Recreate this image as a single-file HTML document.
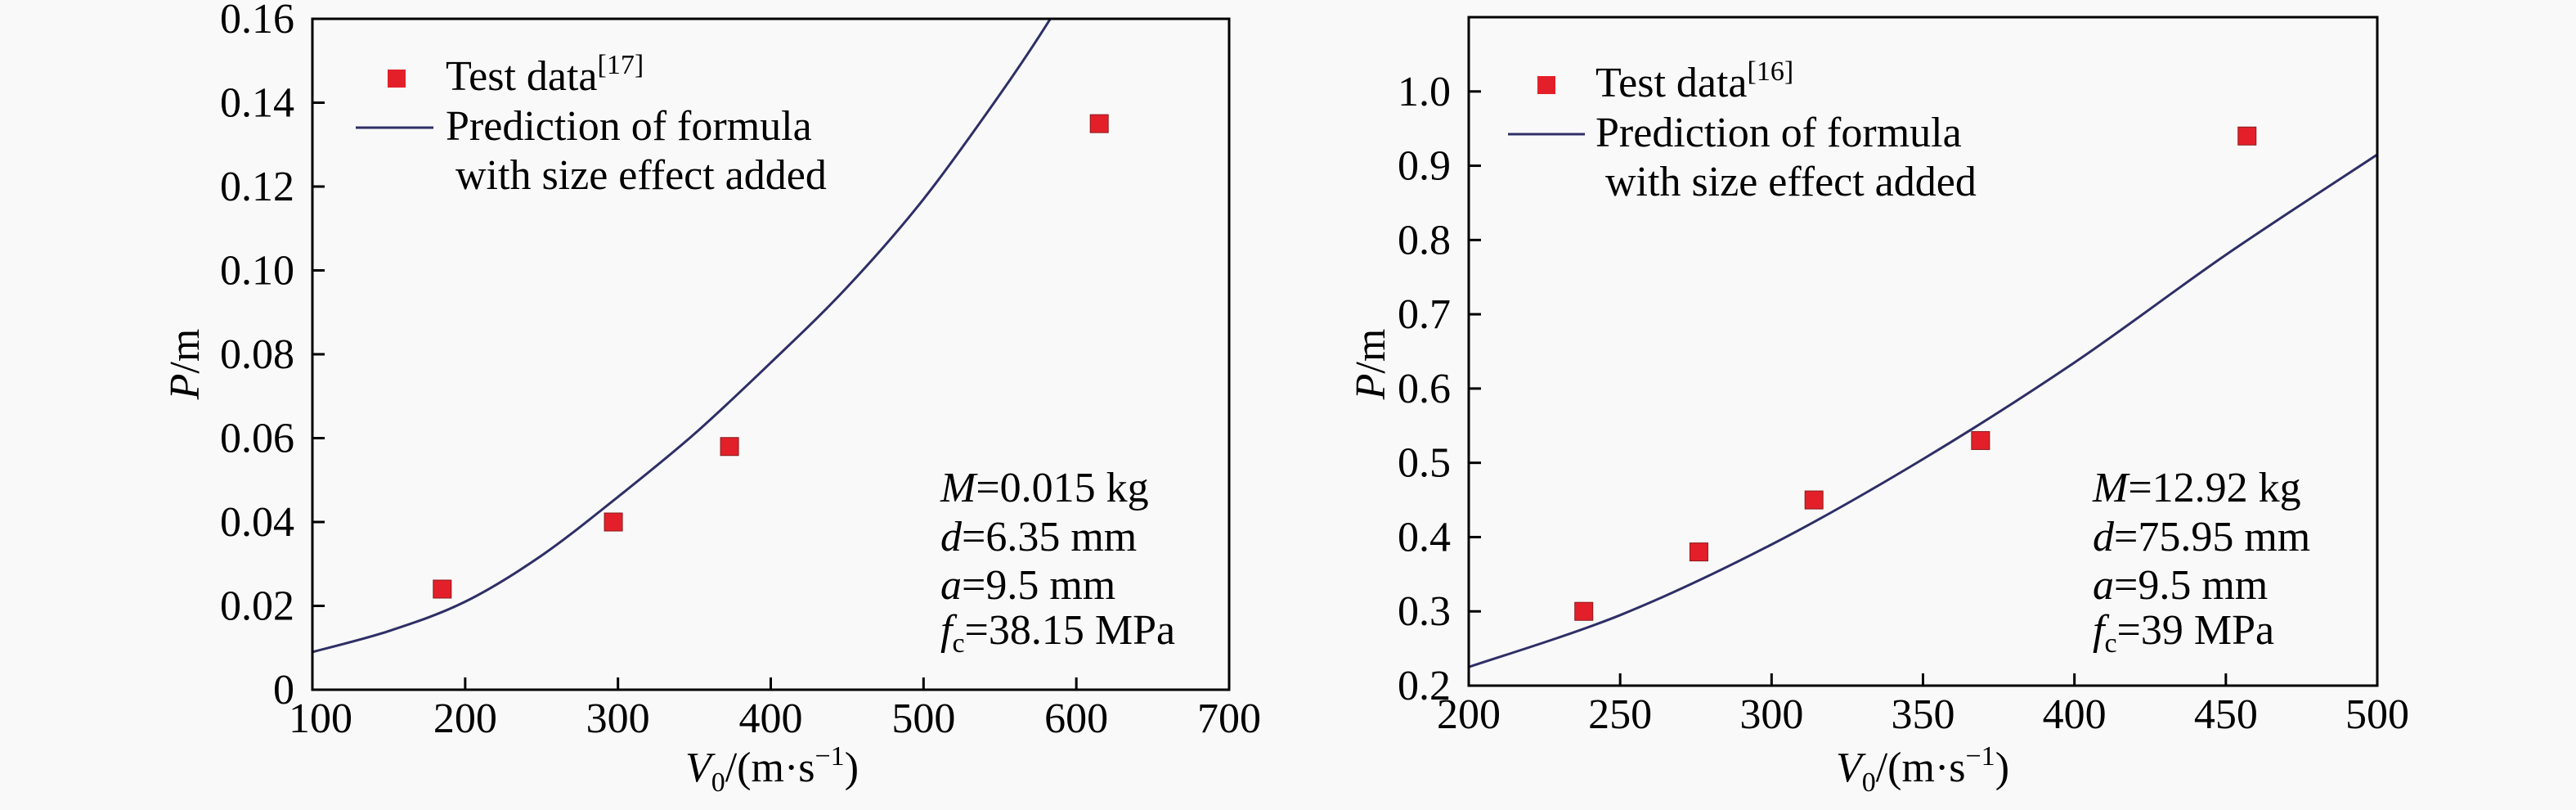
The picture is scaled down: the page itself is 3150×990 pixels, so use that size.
<!DOCTYPE html>
<html><head><meta charset="utf-8"><style>
html,body{margin:0;padding:0;background:#f9f9f9;}
svg{display:block;}
text{font-family:"Liberation Serif","DejaVu Serif",serif;}
</style></head><body>
<svg id="c" width="3150" height="990" xmlns="http://www.w3.org/2000/svg" font-family="Liberation Serif, serif"></svg>
<script>
// Left chart data
const leftTestV = [185, 297, 373, 615];
const leftTestP = [0.024, 0.040, 0.058, 0.135];
const leftCurveV = [100, 150, 200, 250, 300, 350, 400, 450, 500, 550, 583, 600];
const leftCurveP = [0.009, 0.014, 0.021, 0.032, 0.046, 0.061, 0.078, 0.096, 0.117, 0.142, 0.160, 0.171];
const leftXTicks = [100, 200, 300, 400, 500, 600, 700];
const leftYTicks = [0, 0.02, 0.04, 0.06, 0.08, 0.10, 0.12, 0.14, 0.16];
const leftYLabels = ["0", "0.02", "0.04", "0.06", "0.08", "0.10", "0.12", "0.14", "0.16"];
// Right chart data
const rightTestV = [238, 276, 314, 369, 457];
const rightTestP = [0.30, 0.38, 0.45, 0.53, 0.94];
const rightCurveV = [200, 250, 300, 350, 400, 450, 500];
const rightCurveP = [0.225, 0.295, 0.39, 0.505, 0.635, 0.78, 0.915];
const rightXTicks = [200, 250, 300, 350, 400, 450, 500];
const rightYTicks = [0.2, 0.3, 0.4, 0.5, 0.6, 0.7, 0.8, 0.9, 1.0];
const rightYLabels = ["0.2", "0.3", "0.4", "0.5", "0.6", "0.7", "0.8", "0.9", "1.0"];

const NS = "http://www.w3.org/2000/svg";
const svg = document.getElementById('c');
function mk(tag, attrs, parent, text) {
  const e = document.createElementNS(NS, tag);
  for (const k in attrs) e.setAttribute(k, attrs[k]);
  if (tag === 'text') e.setAttribute('font-family', 'Liberation Serif, serif');
  if (text !== undefined) e.textContent = text;
  (parent || svg).appendChild(e);
  return e;
}

function drawChart(cfg) {
  const g = mk('g', {});
  
  
  const sx = v => cfg.x0 + (v - cfg.xmin) / (cfg.xmax - cfg.xmin) * (cfg.x1 - cfg.x0);
  const sy = v => cfg.y0 - (v - cfg.ymin) / (cfg.ymax - cfg.ymin) * (cfg.y0 - cfg.y1);
  const clipId = cfg.name + '-clip';
  const defs = mk('defs', {}, g);
  const cp = mk('clipPath', {id: clipId}, defs);
  mk('rect', {x: cfg.x0, y: cfg.y1, width: cfg.x1 - cfg.x0, height: cfg.y0 - cfg.y1}, cp);

  // smooth curve (Catmull-Rom)
  const pts = cfg.curveV.map((v, i) => [sx(v), sy(cfg.curveP[i])]);
  let d = 'M' + pts[0][0].toFixed(1) + ',' + pts[0][1].toFixed(1);
  for (let i = 0; i < pts.length - 1; i++) {
    const p0 = pts[Math.max(0, i - 1)], p1 = pts[i], p2 = pts[i + 1], p3 = pts[Math.min(pts.length - 1, i + 2)];
    const c1x = p1[0] + (p2[0] - p0[0]) / 6, c1y = p1[1] + (p2[1] - p0[1]) / 6;
    const c2x = p2[0] - (p3[0] - p1[0]) / 6, c2y = p2[1] - (p3[1] - p1[1]) / 6;
    d += 'C' + c1x.toFixed(1) + ',' + c1y.toFixed(1) + ' ' + c2x.toFixed(1) + ',' + c2y.toFixed(1) + ' ' + p2[0].toFixed(1) + ',' + p2[1].toFixed(1);
  }
  const path = mk('path', {d: d, fill: 'none', stroke: '#2e2f66', 'stroke-width': 3, 'clip-path': 'url(#' + clipId + ')'}, g);
  
  

  // frame
  const fr = mk('rect', {x: cfg.x0, y: cfg.y1, width: cfg.x1 - cfg.x0, height: cfg.y0 - cfg.y1, fill: 'none', stroke: '#000', 'stroke-width': 3}, g);
  
  

  cfg.xTicks.forEach(v => {
    mk('line', {x1: sx(v), x2: sx(v), y1: cfg.y0, y2: cfg.y0 - 15, stroke: '#000', 'stroke-width': 3}, g);
    const t = mk('text', {x: sx(v) + (cfg.xLabelShift && v === cfg.xmin ? cfg.xLabelShift : 0), y: cfg.y0 + 52, 'font-size': 52, 'text-anchor': 'middle'}, g, String(v));
    
    
  });
  cfg.yTicks.forEach((v, i) => {
    mk('line', {x1: cfg.x0, x2: cfg.x0 + 15, y1: sy(v), y2: sy(v), stroke: '#000', 'stroke-width': 3}, g);
    const t = mk('text', {x: cfg.x0 - 22, y: sy(v) + 17, 'font-size': 52, 'text-anchor': 'end'}, g, cfg.yLabels[i]);
    
    
  });

  cfg.testV.forEach((v, i) => {
    const r = mk('rect', {x: sx(v) - 11, y: sy(cfg.testP[i]) - 11, width: 22, height: 22, fill: '#e3202a', stroke: '#8a1a1a', 'stroke-width': 1}, g);
    
    
  });

  const xt = mk('text', {x: cfg.xTitleX, y: 955, 'font-size': 52, 'text-anchor': 'middle'}, g);
  
  
  xt.innerHTML = '<tspan font-style="italic">V</tspan><tspan font-size="34" dy="12">0</tspan><tspan dy="-12">/(m·s</tspan><tspan font-size="34" dy="-20">−1</tspan><tspan dy="20">)</tspan>';
  const yt = mk('text', {x: 0, y: 0, 'font-size': 52, 'text-anchor': 'middle', transform: 'translate(' + (cfg.yTitleX + 17) + ',445) rotate(-90)'}, g);
  
  
  yt.innerHTML = '<tspan font-style="italic">P</tspan>/m';

  const lg = mk('g', {}, g);
  
  
  mk('rect', {x: cfg.legMarkX - 11, y: cfg.legMarkY - 11, width: 22, height: 22, fill: '#e3202a'}, lg);
  const l1 = mk('text', {x: cfg.legTextX, y: cfg.legMarkY + 14, 'font-size': 52}, lg);
  l1.innerHTML = 'Test data<tspan font-size="34" dy="-20">[' + cfg.ref + ']</tspan>';
  mk('line', {x1: cfg.legLineX0, x2: cfg.legLineX1, y1: cfg.legMarkY + 60, y2: cfg.legMarkY + 60, stroke: '#2e2f66', 'stroke-width': 3}, lg);
  mk('text', {x: cfg.legTextX, y: cfg.legMarkY + 75, 'font-size': 52}, lg, 'Prediction of formula');
  mk('text', {x: cfg.legTextX + 12, y: cfg.legMarkY + 135, 'font-size': 52}, lg, 'with size effect added');

  const an = mk('g', {}, g);
  
  
  const lines = cfg.ann;
  const ys = [613, 673, 732, 787];
  mk('text', {x: cfg.annX, y: ys[0], 'font-size': 52}, an).innerHTML = '<tspan font-style="italic">M</tspan>=' + lines[0];
  mk('text', {x: cfg.annX, y: ys[1], 'font-size': 52}, an).innerHTML = '<tspan font-style="italic">d</tspan>=' + lines[1];
  mk('text', {x: cfg.annX, y: ys[2], 'font-size': 52}, an).innerHTML = '<tspan font-style="italic">a</tspan>=' + lines[2];
  mk('text', {x: cfg.annX, y: ys[3], 'font-size': 52}, an).innerHTML = '<tspan font-style="italic">f</tspan><tspan font-size="34" dy="10">c</tspan><tspan dy="-10">=' + lines[3] + '</tspan>';
}

drawChart({name: 'left-chart', x0: 382, x1: 1503, y0: 843, y1: 23, xmin: 100, xmax: 700, ymin: 0, ymax: 0.16,
  xTicks: leftXTicks, yTicks: leftYTicks, yLabels: leftYLabels, testV: leftTestV, testP: leftTestP,
  curveV: leftCurveV, curveP: leftCurveP, xLabelShift: 10, xTitleX: 944, yTitleX: 226,
  legMarkX: 485, legMarkY: 96, legTextX: 545, legLineX0: 435, legLineX1: 530, ref: '17',
  annX: 1150, ann: ['0.015 kg', '6.35 mm', '9.5 mm', '38.15 MPa']});
drawChart({name: 'right-chart', x0: 1796, x1: 2907, y0: 838, y1: 21, xmin: 200, xmax: 500, ymin: 0.2, ymax: 1.1,
  xTicks: rightXTicks, yTicks: rightYTicks, yLabels: rightYLabels, testV: rightTestV, testP: rightTestP,
  curveV: rightCurveV, curveP: rightCurveP, xTitleX: 2351, yTitleX: 1676,
  legMarkX: 1891, legMarkY: 104, legTextX: 1951, legLineX0: 1844, legLineX1: 1938, ref: '16',
  annX: 2559, ann: ['12.92 kg', '75.95 mm', '9.5 mm', '39 MPa']});
</script>
</body></html>
